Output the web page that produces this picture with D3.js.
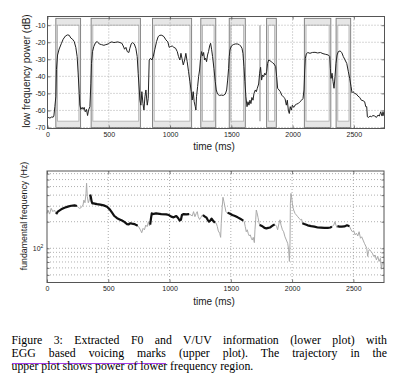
<!DOCTYPE html>
<html>
<head>
<meta charset="utf-8">
<script src="https://cdn.jsdelivr.net/npm/d3@7"></script>
<style>
  body { margin: 0; background: #fff; }
  #wrap { position: relative; width: 393px; height: 387px; overflow: hidden; }
  #caption {
    position: absolute; left: 11.5px; top: 334.4px; width: 375.5px;
    font-family: "Liberation Serif", "Times New Roman", serif;
    font-size: 11.8px; line-height: 12.9px; color: #000;
  }
  #caption div { text-align: justify; text-align-last: justify; }
  #caption div.last { text-align: left; text-align-last: left; }
  #caption span.link { border-bottom: 1.4px solid #a43ae8; padding-bottom: 2.4px; }
</style>
</head>
<body>
<div id="wrap"></div>
<script>
// ---- data ----
const xTicks = [0, 500, 1000, 1500, 2000, 2500];
const dbTicks = [-70, -60, -50, -40, -30, -20, -10];
const hzTicks = [50, 60, 70, 80, 90, 100, 200, 300, 400, 500, 600, 700];

// EGG voicing marks (ms) and a single narrow mark
const voicingMarks = [[68, 270], [356, 758], [857, 1176], [1251, 1373], [1483, 1614], [1788, 1867], [2096, 2312], [2355, 2474]];
const narrowMarks = [1734];

// low frequency power trajectory
const powerTime = [
  5, 20, 35, 46, 52, 60, 68, 73, 82, 95,
  114, 128, 147, 163, 177, 190, 204, 218, 231, 242,
  250, 259, 264, 272, 283, 291, 299, 308, 318, 327,
  335, 346, 354, 359, 367, 378, 392, 406, 422, 441,
  460, 476, 495, 509, 525, 542, 558, 574, 591, 607,
  618, 629, 640, 651, 664, 672, 683, 694, 708, 721,
  732, 740, 749, 754, 762, 770, 779, 787, 795, 803,
  814, 822, 830, 841, 852, 863, 876, 890, 903, 917,
  933, 950, 966, 982, 993, 1004, 1018, 1031, 1045, 1059,
  1069, 1080, 1089, 1097, 1108, 1119, 1129, 1140, 1151, 1162,
  1173, 1181, 1189, 1197, 1206, 1211, 1216, 1225, 1233, 1241,
  1249, 1257, 1266, 1274, 1282, 1290, 1298, 1306, 1314, 1323,
  1331, 1339, 1347, 1358, 1369, 1377, 1388, 1402, 1418, 1434,
  1451, 1462, 1470, 1478, 1483, 1489, 1500, 1516, 1532, 1549,
  1565, 1576, 1587, 1595, 1603, 1611, 1619, 1628, 1636, 1644,
  1652, 1660, 1668, 1677, 1685, 1696, 1704, 1712, 1723, 1731,
  1739, 1747, 1755, 1764, 1772, 1780, 1788, 1796, 1805, 1815,
  1826, 1837, 1848, 1862, 1870, 1878, 1889, 1900, 1911, 1924,
  1938, 1949, 1957, 1965, 1973, 1981, 1990, 1998, 2009, 2020,
  2033, 2047, 2060, 2074, 2085, 2093, 2099, 2104, 2112, 2123,
  2142, 2161, 2183, 2205, 2227, 2248, 2270, 2292, 2303, 2308,
  2314, 2322, 2330, 2338, 2346, 2354, 2363, 2373, 2387, 2401,
  2414, 2428, 2442, 2455, 2466, 2477, 2485, 2493, 2507, 2520,
  2534, 2548, 2561, 2575, 2588, 2597, 2605, 2610, 2621, 2632,
  2643, 2656, 2670, 2684, 2697, 2708, 2719, 2730, 2738, 2746
];
const powerDb = [
  -64.1, -64.5, -63.8, -64, -63.3, -57.8, -52, -36, -27.5, -24,
  -20.6, -18.2, -16.3, -15.7, -15.9, -17.5, -18.2, -19.6, -23, -28.4,
  -38, -50, -56.9, -59.4, -58.2, -59.4, -58.2, -60.8, -59.4, -63,
  -59.8, -57.8, -44, -32.4, -25.5, -22.5, -20.2, -19.6, -21, -21.4,
  -21.8, -21.4, -21, -20.2, -19.8, -20.2, -20, -19.8, -20.2, -20.6,
  -22.2, -24.1, -23, -25.5, -26, -23.5, -21, -20.2, -21, -23.5,
  -28.4, -38.2, -48, -54, -56.9, -49, -56, -59.8, -52, -48,
  -56.9, -53, -30.4, -29.4, -30.4, -28.4, -24.1, -19.6, -16.7, -15.9,
  -15.9, -16.7, -18.6, -19.8, -23, -22.5, -22.2, -23, -23.5, -25.5,
  -28.4, -30.4, -26.5, -29.4, -33.3, -30.4, -26.5, -31.4, -37.3, -43.1,
  -49, -53.9, -49, -54.9, -57.8, -59.8, -52, -46, -40.2, -36.3,
  -29.4, -25.5, -28, -26, -30.4, -29.4, -31.4, -27.5, -25.5, -22.2,
  -20.6, -24.1, -28.4, -35.3, -43.1, -48, -50.4, -51.2, -51, -51.2,
  -50.4, -48, -42.2, -35.3, -28.4, -24.5, -22.2, -21.4, -21, -21,
  -21.4, -22.2, -23.5, -26.5, -34.3, -43.1, -52, -57.8, -54.9, -56.9,
  -54, -56, -52.4, -54, -50, -48, -49, -47, -44.5, -38.2,
  -34.7, -42.2, -39.2, -40.2, -38.2, -39.2, -37.3, -32.4, -30.4, -30.8,
  -31.4, -32, -32.7, -34.3, -40.2, -47, -48, -49, -51, -52,
  -53, -56.9, -54, -59.8, -61.8, -57.8, -59.8, -56.9, -58.2, -56.9,
  -56.3, -55.9, -54.9, -54, -53, -48, -36.3, -29.4, -26.9, -26,
  -26.5, -26, -25.9, -26.3, -26, -26.7, -27.1, -27.5, -28.4, -35.3,
  -41.2, -38.2, -43.1, -47, -40.2, -32.4, -27.5, -25.5, -25.1, -26,
  -28.4, -30.4, -32.4, -37.3, -41.2, -46, -49.6, -49, -50, -50.4,
  -51.6, -52.4, -54, -54.3, -54.9, -57.8, -57.8, -63.7, -64.1, -63.3,
  -63.7, -63, -63.3, -64.1, -62.7, -63.3, -60.8, -63.3, -60.8, -63.3
];

// F0 trajectory (Hz) and the frames judged voiced
const f0Time = [
  0, 8, 21, 34, 48, 61, 75, 88, 116, 143,
  170, 197, 225, 244, 255, 266, 280, 294, 301, 310,
  318, 323, 329, 337, 345, 352, 358, 364, 370, 380,
  408, 435, 463, 490, 512, 531, 550, 572, 593, 612,
  631, 653, 667, 680, 694, 713, 729, 740, 747, 762,
  773, 784, 795, 806, 817, 828, 836, 842, 848, 855,
  861, 890, 932, 973, 995, 1014, 1033, 1055, 1071, 1082,
  1093, 1101, 1115, 1136, 1160, 1175, 1185, 1196, 1207, 1218,
  1226, 1234, 1245, 1256, 1267, 1272, 1289, 1300, 1311, 1322,
  1332, 1343, 1354, 1370, 1381, 1390, 1398, 1409, 1417, 1422,
  1430, 1436, 1444, 1452, 1460, 1468, 1474, 1490, 1512, 1534,
  1556, 1577, 1602, 1610, 1618, 1626, 1634, 1643, 1651, 1659,
  1667, 1675, 1683, 1692, 1697, 1703, 1708, 1714, 1722, 1730,
  1735, 1750, 1762, 1775, 1790, 1805, 1820, 1835, 1850, 1858,
  1866, 1874, 1882, 1893, 1901, 1910, 1921, 1931, 1942, 1953,
  1964, 1972, 1978, 1983, 1986, 1991, 1997, 2005, 2013, 2024,
  2035, 2046, 2057, 2068, 2078, 2084, 2100, 2127, 2155, 2182,
  2209, 2236, 2263, 2291, 2312, 2325, 2340, 2350, 2358, 2366,
  2370, 2386, 2405, 2427, 2448, 2468, 2481, 2492, 2503, 2514,
  2525, 2536, 2547, 2558, 2568, 2579, 2590, 2601, 2609, 2617,
  2623, 2631, 2644, 2655, 2666, 2677, 2688, 2699, 2710, 2721,
  2729, 2737, 2745
];
const f0Hz = [
  248, 271, 244, 283, 260, 271, 244, 260, 276, 288,
  296, 303, 306, 301, 290, 283, 290, 309, 351, 328,
  418, 545, 385, 328, 351, 405, 380, 340, 323, 323,
  316, 312, 306, 296, 276, 253, 232, 219, 212, 206,
  199, 188, 187, 192, 190, 188, 183, 180, 176, 162,
  150, 168, 162, 183, 176, 200, 180, 185, 215, 248,
  244, 248, 244, 242, 238, 228, 224, 232, 219, 206,
  210, 238, 244, 242, 244, 238, 232, 260, 228, 248,
  260, 228, 212, 224, 238, 238, 228, 224, 210, 200,
  206, 217, 206, 195, 192, 176, 157, 148, 133, 192,
  296, 378, 336, 296, 260, 253, 253, 248, 238, 232,
  224, 216, 206, 199, 176, 154, 162, 146, 138, 142,
  130, 124, 133, 116, 162, 210, 271, 253, 224, 195,
  184, 180, 176, 170, 168, 170, 172, 178, 184, 184,
  183, 176, 162, 192, 210, 183, 162, 154, 135, 124,
  114, 96, 71, 114, 322, 418, 372, 296, 271, 248,
  238, 228, 219, 210, 213, 192, 188, 182, 178, 176,
  172, 171, 170, 170, 172, 176, 183, 200, 183, 172,
  178, 176, 176, 177, 182, 178, 162, 154, 158, 142,
  148, 138, 154, 130, 135, 124, 114, 106, 100, 81,
  92, 97, 92, 88, 81, 84, 74, 81, 71, 77,
  58, 70, 66
];
const voicedF0 = [[75, 244], [352, 740], [842, 1160], [1272, 1370], [1474, 1602], [1735, 1858], [2084, 2325], [2370, 2468]];

const captionLines = [
  "Figure 3: Extracted F0 and V/UV information (lower plot) with",
  "<span class=\"link\">EGG based voicing marks</span> (upper plot).  The trajectory in the",
  "upper plot shows power of lower frequency region."
];

// ---- layout ----
const width = 393, height = 387;
const up = {left: 47.5, right: 384.5, top: 16.5, bottom: 128.5};
const lo = {left: 47, right: 384, top: 171, bottom: 282.5};
const sans = '"Liberation Sans", Arial, Helvetica, sans-serif';
const frameColor = '#555';
const gridColor = '#9a9a9a';

const svg = d3.select('#wrap').append('svg')
    .attr('width', width)
    .attr('height', height)
    .style('position', 'absolute')
    .style('left', 0)
    .style('top', 0);

const powerData = powerTime.map((t, i) => ({t: t, v: powerDb[i]}));
const f0Data = f0Time.map((t, i) => ({t: t, v: f0Hz[i]}));

// ---- upper plot ----
const xUp = d3.scaleLinear().domain([0, 2750]).range([up.left, up.right]);
const yUp = d3.scaleLinear().domain([-70.6, -4.9]).range([up.bottom, up.top]);

let upper = svg.append('g').attr('class', 'upper');

// voicing boxes: light band between an outer and an inner rectangle
let marks = upper.selectAll('g.mark')
    .data(voicingMarks)
    .enter()
    .append('g')
    .attr('class', 'mark');
marks.append('rect')
    .attr('x', d => xUp(d[0]))
    .attr('y', yUp(-6))
    .attr('width', d => xUp(d[1]) - xUp(d[0]))
    .attr('height', yUp(-70) - yUp(-6))
    .attr('fill', '#e6e6e6')
    .attr('stroke', '#7a7a7a')
    .attr('stroke-width', 0.9);
marks.append('rect')
    .attr('x', d => xUp(d[0]) + 1.7)
    .attr('y', yUp(-10))
    .attr('width', d => xUp(d[1]) - xUp(d[0]) - 3.4)
    .attr('height', yUp(-66.3) - yUp(-10))
    .attr('fill', '#fff')
    .attr('stroke', '#b4b4b4')
    .attr('stroke-width', 0.9);

upper.selectAll('line.narrow')
    .data(narrowMarks)
    .enter()
    .append('line')
    .attr('class', 'narrow')
    .attr('x1', d => xUp(d)).attr('x2', d => xUp(d))
    .attr('y1', yUp(-10)).attr('y2', yUp(-66.3))
    .attr('stroke', '#a8a8a8')
    .attr('stroke-width', 1.4);

// grid
upper.selectAll('line.vgrid')
    .data(xTicks.filter(d => d > 0))
    .enter().append('line')
    .attr('x1', d => xUp(d)).attr('x2', d => xUp(d))
    .attr('y1', up.top).attr('y2', up.bottom)
    .attr('stroke', gridColor).attr('stroke-width', 0.8).attr('stroke-dasharray', '1,2');
upper.selectAll('line.hgrid')
    .data(dbTicks)
    .enter().append('line')
    .attr('x1', up.left).attr('x2', up.right)
    .attr('y1', d => yUp(d)).attr('y2', d => yUp(d))
    .attr('stroke', gridColor).attr('stroke-width', 0.8).attr('stroke-dasharray', '1,2');

upper.append('path')
    .datum(powerData)
    .attr('fill', 'none')
    .attr('stroke', '#222')
    .attr('stroke-width', 1)
    .attr('d', d3.line().x(d => xUp(d.t)).y(d => yUp(d.v)));

// ---- lower plot ----
const xLo = d3.scaleLinear().domain([0, 2750]).range([lo.left, lo.right]);
const yLo = d3.scaleLog().domain([41, 750]).range([lo.bottom, lo.top]);

let lower = svg.append('g').attr('class', 'lower');

lower.selectAll('line.vgrid')
    .data(xTicks.filter(d => d > 0))
    .enter().append('line')
    .attr('x1', d => xLo(d)).attr('x2', d => xLo(d))
    .attr('y1', lo.top).attr('y2', lo.bottom)
    .attr('stroke', gridColor).attr('stroke-width', 0.8).attr('stroke-dasharray', '1,2');
lower.selectAll('line.hgrid')
    .data(hzTicks)
    .enter().append('line')
    .attr('x1', lo.left).attr('x2', lo.right)
    .attr('y1', d => yLo(d)).attr('y2', d => yLo(d))
    .attr('stroke', gridColor).attr('stroke-width', 0.8).attr('stroke-dasharray', '1,2');

let f0Line = d3.line().x(d => xLo(d.t)).y(d => yLo(d.v));
lower.append('path')
    .datum(f0Data)
    .attr('fill', 'none')
    .attr('stroke', '#a9a9a9')
    .attr('stroke-width', 1)
    .attr('d', f0Line);
lower.selectAll('path.voiced')
    .data(voicedF0.map(s => f0Data.filter(d => d.t >= s[0] && d.t <= s[1])))
    .enter().append('path')
    .attr('class', 'voiced')
    .attr('fill', 'none')
    .attr('stroke', '#111')
    .attr('stroke-width', 2.2)
    .attr('stroke-linejoin', 'round')
    .attr('d', f0Line);

// ---- axes (matlab style: box, inward ticks) ----
function styleAxis(g) {
    g.select('.domain').remove();
    g.selectAll('line').attr('stroke', frameColor).attr('stroke-width', 0.8);
    g.selectAll('text').attr('fill', '#222');
    g.attr('font-family', sans).attr('font-size', 7);
}

function frame(box) {
    svg.append('rect')
        .attr('x', box.left).attr('y', box.top)
        .attr('width', box.right - box.left).attr('height', box.bottom - box.top)
        .attr('fill', 'none').attr('stroke', frameColor).attr('stroke-width', 1);
}

// upper
svg.append('g').attr('transform', `translate(0,${up.bottom})`)
    .call(d3.axisBottom(xUp).tickValues(xTicks).tickSizeInner(-3).tickSizeOuter(0).tickPadding(3.5).tickFormat(d => d))
    .call(styleAxis);
svg.append('g').attr('transform', `translate(0,${up.top})`)
    .call(d3.axisTop(xUp).tickValues(xTicks).tickSizeInner(-3).tickSizeOuter(0).tickFormat(''))
    .call(styleAxis);
svg.append('g').attr('transform', `translate(${up.left},0)`)
    .call(d3.axisLeft(yUp).tickValues(dbTicks).tickSizeInner(-3).tickSizeOuter(0).tickPadding(2).tickFormat(d => d))
    .call(styleAxis);
svg.append('g').attr('transform', `translate(${up.right},0)`)
    .call(d3.axisRight(yUp).tickValues(dbTicks).tickSizeInner(-3).tickSizeOuter(0).tickFormat(''))
    .call(styleAxis);
frame(up);

// lower
svg.append('g').attr('transform', `translate(0,${lo.bottom})`)
    .call(d3.axisBottom(xLo).tickValues(xTicks).tickSizeInner(-3).tickSizeOuter(0).tickPadding(3.5).tickFormat(d => d))
    .call(styleAxis);
svg.append('g').attr('transform', `translate(0,${lo.top})`)
    .call(d3.axisTop(xLo).tickValues(xTicks).tickSizeInner(-3).tickSizeOuter(0).tickFormat(''))
    .call(styleAxis);
svg.append('g').attr('transform', `translate(${lo.left},0)`)
    .call(d3.axisLeft(yLo).tickValues(hzTicks).tickSizeInner(-2.5).tickSizeOuter(0).tickFormat(''))
    .call(styleAxis);
svg.append('g').attr('transform', `translate(${lo.right},0)`)
    .call(d3.axisRight(yLo).tickValues(hzTicks).tickSizeInner(-2.5).tickSizeOuter(0).tickFormat(''))
    .call(styleAxis);
frame(lo);

// 10^2 label
let decade = svg.append('text')
    .attr('x', lo.left - 3.6)
    .attr('y', yLo(100) + 2.4)
    .attr('text-anchor', 'end')
    .attr('font-family', sans)
    .attr('font-size', 7)
    .attr('fill', '#222');
decade.append('tspan').text('10');
decade.append('tspan').attr('dy', -3).attr('font-size', 5).text('2');

// axis titles
function title(txt, x, y, rotate, size) {
    svg.append('text')
        .attr('transform', `translate(${x},${y})` + (rotate ? ' rotate(-90)' : ''))
        .attr('text-anchor', 'middle')
        .attr('font-family', sans)
        .attr('font-size', size)
        .attr('fill', '#1a1a1a')
        .text(txt);
}
title('time (ms)', 214, 150, false, 10);
title('time (ms)', 214, 305, false, 10);
title('low frequency power (dB)', 29.5, 71, true, 10);
title('fundamental frequency (Hz)', 26.5, 216, true, 8.8);

// ---- caption ----
let cap = d3.select('#wrap').append('div').attr('id', 'caption');
cap.selectAll('div')
    .data(captionLines)
    .enter()
    .append('div')
    .attr('class', (d, i) => i === captionLines.length - 1 ? 'last' : null)
    .html(d => d);
</script>
</body>
</html>
